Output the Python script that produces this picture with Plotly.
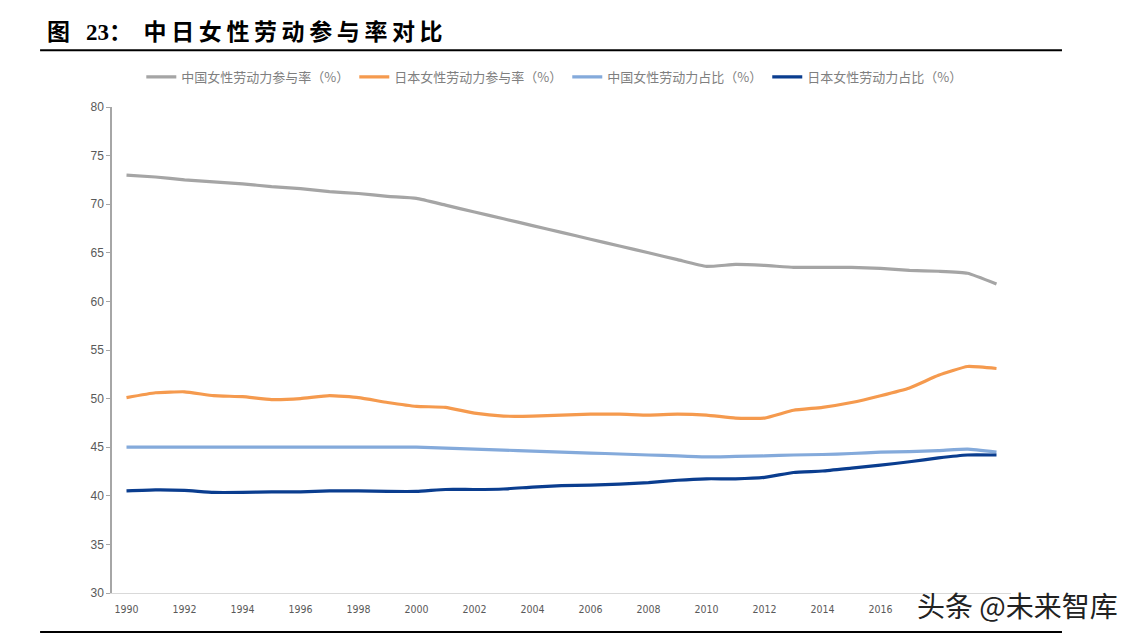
import plotly.graph_objects as go

years = list(range(1990, 2021))
tick_years = list(range(1990, 2021, 2))
tick_labels = [str(y) if y <= 2016 else "" for y in tick_years]

china_lfpr = [73.0, 72.8, 72.5, 72.3, 72.1, 71.8, 71.6, 71.3, 71.1, 70.8, 70.6,
              69.9, 69.2, 68.5, 67.8, 67.1, 66.4, 65.7, 65.0, 64.3, 63.6,
              63.8, 63.7, 63.5, 63.5, 63.5, 63.4, 63.2, 63.1, 62.9, 61.8]
japan_lfpr = [50.1, 50.6, 50.7, 50.3, 50.2, 49.9, 50.0, 50.3, 50.1, 49.6, 49.2,
              49.1, 48.5, 48.2, 48.2, 48.3, 48.4, 48.4, 48.3, 48.4, 48.3,
              48.0, 48.0, 48.8, 49.1, 49.6, 50.3, 51.1, 52.4, 53.3, 53.1]
china_share = [45.0, 45.0, 45.0, 45.0, 45.0, 45.0, 45.0, 45.0, 45.0, 45.0, 45.0,
               44.9, 44.8, 44.7, 44.6, 44.5, 44.4, 44.3, 44.2, 44.1, 44.0,
               44.05, 44.1, 44.2, 44.25, 44.35, 44.5, 44.55, 44.65, 44.8, 44.5]
japan_share = [40.5, 40.6, 40.55, 40.35, 40.35, 40.4, 40.4, 40.5, 40.5, 40.45, 40.45,
               40.65, 40.65, 40.7, 40.9, 41.05, 41.1, 41.2, 41.35, 41.6, 41.75,
               41.75, 41.9, 42.4, 42.55, 42.85, 43.15, 43.5, 43.9, 44.2, 44.2]

series = [
    ("中国女性劳动力参与率（%）", china_lfpr, "#A5A5A5"),
    ("日本女性劳动力参与率（%）", japan_lfpr, "#F59A4E"),
    ("中国女性劳动力占比（%）", china_share, "#84AADB"),
    ("日本女性劳动力占比（%）", japan_share, "#0A3D8F"),
]

fig = go.Figure()
for name, vals, color in series:
    fig.add_trace(go.Scatter(
        x=years, y=vals, name=name, mode="lines",
        line=dict(color=color, width=3.2, shape="spline", smoothing=0.4),
    ))

# page body has an 8px margin, so figure is 8px smaller and margins offset
fig.update_layout(
    width=1130, height=631,
    paper_bgcolor="white", plot_bgcolor="white",
    margin=dict(l=104, r=127, t=99, b=46, autoexpand=False),
    showlegend=True,
    legend=dict(
        orientation="h", x=0.492, xanchor="center", y=1.062, yanchor="middle",
        font=dict(family="Noto Sans CJK SC", size=13, color="#7F7F7F"),
        itemwidth=30, tracegroupgap=0,
        bgcolor="rgba(0,0,0,0)",
    ),
    font=dict(family="Noto Sans CJK SC", color="#595959"),
)

fig.update_xaxes(
    range=[1989.5, 2020.5], tickmode="array", tickvals=tick_years,
    ticktext=tick_labels,
    showgrid=False, zeroline=False,
    showline=True, linecolor="#D9D9D9", linewidth=1,
    ticks="", ticklabelstandoff=6,
    tickfont=dict(family="DejaVu Sans Condensed", size=10.5, color="#595959"),
)
fig.update_yaxes(
    range=[30, 80], dtick=5, tick0=30,
    showgrid=False, zeroline=False,
    showline=True, linecolor="#A6A6A6", linewidth=1.5,
    ticks="outside", ticklen=4, tickcolor="#A6A6A6",
    tickfont=dict(family="Liberation Sans", size=12, color="#595959"),
)

# Title and rules
sp = "\u2009"
title_chars = sp.join(list("中日女性劳动参与率对比"))
fig.add_annotation(
    xref="paper", yref="paper", x=-0.075, y=1.158, xanchor="left", yanchor="middle",
    text="<b>图\u2002\u2009<span style='font-family:Liberation Serif'>23</span>：" + "\u2002" + title_chars + "</b>",
    showarrow=False,
    font=dict(family="Noto Sans CJK SC", size=23, color="black"),
)
fig.add_shape(type="line", xref="paper", yref="paper",
              x0=-0.08, x1=1.0567, y0=1.117, y1=1.117, line=dict(color="black", width=2))
fig.add_shape(type="line", xref="paper", yref="paper",
              x0=-0.08, x1=1.0567, y0=-0.08, y1=-0.08, line=dict(color="black", width=2))

# watermark
fig.add_annotation(
    xref="paper", yref="paper", x=1.121, y=-0.025, xanchor="right", yanchor="middle",
    text="头条 @未来智库", showarrow=False,
    font=dict(family="Noto Sans CJK SC", size=28, color="#222222"),
)

fig.write_html("out.html")
